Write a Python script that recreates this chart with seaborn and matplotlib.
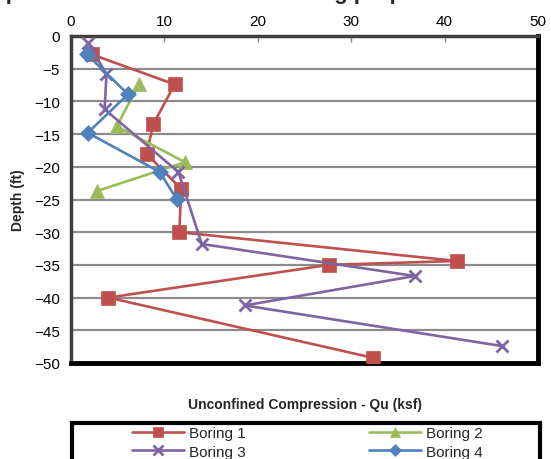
import matplotlib
matplotlib.use("Agg")
import matplotlib.pyplot as plt
from matplotlib.patches import Rectangle
import seaborn as sns
import pandas as pd

# ---- data ----
b1_qu = [2.2, 11.1, 8.8, 8.1, 11.8, 11.6, 41.3, 27.6, 4.0, 32.3]
b1_depth = [-2.8, -7.4, -13.5, -18.0, -23.4, -30.0, -34.4, -35.0, -40.0, -49.2]
b2_qu = [7.3, 4.9, 12.2, 2.8]
b2_depth = [-7.3, -13.8, -19.3, -23.7]
b3_qu = [1.8, 3.8, 3.6, 11.5, 14.0, 36.8, 18.6, 46.1]
b3_depth = [-1.1, -5.8, -11.2, -20.8, -31.8, -36.7, -41.2, -47.4]
b4_qu = [1.7, 6.1, 1.8, 9.5, 11.3]
b4_depth = [-2.8, -8.9, -14.8, -20.8, -24.9]
series_names = ["Boring 1", "Boring 2", "Boring 3", "Boring 4"]
x_ticks = [0, 10, 20, 30, 40, 50]
y_ticks = [0, -5, -10, -15, -20, -25, -30, -35, -40, -45, -50]

frames = []
for name, xs, ys in zip(series_names, [b1_qu, b2_qu, b3_qu, b4_qu],
                        [b1_depth, b2_depth, b3_depth, b4_depth]):
    frames.append(pd.DataFrame({"Qu": xs, "Depth": ys, "Boring": name}))
df = pd.concat(frames, ignore_index=True)

sns.set_theme(style="white")
plt.rcParams["font.family"] = ["Liberation Sans", "DejaVu Sans"]

palette = {"Boring 1": "#C0504D", "Boring 2": "#9BBB59",
           "Boring 3": "#8064A2", "Boring 4": "#4F81BD"}
markers = {"Boring 1": "s", "Boring 2": "^", "Boring 3": "x", "Boring 4": "D"}
msize = {"Boring 1": 10.5, "Boring 2": 10.5, "Boring 3": 9, "Boring 4": 8.5}

fig = plt.figure(figsize=(5.51, 4.60), dpi=100)
ax = fig.add_axes([71 / 551, 1 - 364 / 460, (538 - 71) / 551, (364 - 37) / 460])

for name in series_names:
    sub = df[df["Boring"] == name]
    sns.lineplot(data=sub, x="Qu", y="Depth", sort=False, estimator=None,
                 color=palette[name], marker=markers[name], markersize=msize[name],
                 markeredgewidth=2 if name == "Boring 3" else 0.5,
                 markeredgecolor=palette[name],
                 linewidth=1.9, ax=ax, label=name, legend=False, zorder=3)

ax.set_xlim(0, 50)
ax.set_ylim(-50, 0)
ax.set_xticks(x_ticks)
ax.set_yticks(y_ticks)
ax.xaxis.tick_top()
ax.tick_params(axis="x", direction="in", length=4, width=1, color="#888888",
               labelsize=11, pad=6, labelcolor="black")
ax.tick_params(axis="y", direction="out", length=4, width=1, color="#888888",
               labelsize=11, pad=4, labelcolor="black")
ax.yaxis.grid(True, color="#8c8c8c", linewidth=1.6)
ax.xaxis.grid(False)
ax.set_xlabel("")
ax.set_ylabel("")
for side in ["left", "top"]:
    ax.spines[side].set_color("#404040")
    ax.spines[side].set_linewidth(2.5)
for side in ["right", "bottom"]:
    ax.spines[side].set_color("black")
    ax.spines[side].set_linewidth(3.5)

fig.text((71 + 538) / 2 / 551, 1 - 405 / 460, "Unconfined Compression - Qu (ksf)",
         ha="center", va="center", fontsize=10, fontweight="bold")
fig.text(18 / 551, 1 - 200 / 460, "Depth (ft)", ha="center", va="center",
         rotation=90, fontsize=10, fontweight="bold")

# title (cut off at the top in the reference)
fig.text(462 / 551, 1.0 + 1.5 / 460, "Unconfined Compression Test Results for Boring properties",
         ha="right", va="baseline", fontsize=16, fontweight="bold")

# legend box (cut off at the bottom in the reference)
fig.patches.append(Rectangle((72 / 551, -20 / 460), (540 - 72) / 551, (20 + 460 - 424) / 460,
                             transform=fig.transFigure, facecolor="white",
                             edgecolor="black", linewidth=3, zorder=1))

handles, labels = ax.get_legend_handles_labels()
order = [0, 2, 1, 3]
leg = fig.legend([handles[i] for i in order], [labels[i] for i in order],
                 loc="upper left", ncol=2,
                 bbox_to_anchor=(132 / 551, 1 - 427 / 460),
                 fontsize=11, handlelength=3.4, labelspacing=0.3,
                 borderpad=0, borderaxespad=0, handletextpad=0.3,
                 columnspacing=8.1, frameon=False)
leg.set_zorder(2)
for h in leg.legend_handles:
    h.set_markersize(6.5)

fig.savefig("out.png", dpi=100)
